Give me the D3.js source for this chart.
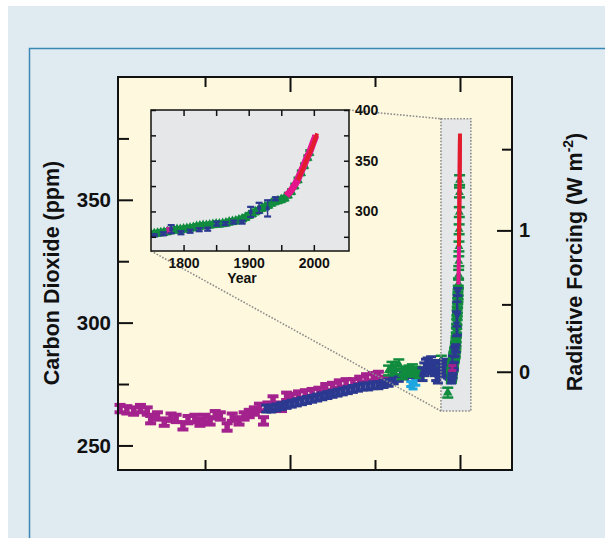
<!DOCTYPE html>
<html>
<head>
<meta charset="utf-8">
<script src="https://cdn.jsdelivr.net/npm/d3@7"></script>
<style>
  body { margin: 0; background: #fff; }
  svg { display: block; font-family: "Liberation Sans", Arial, Helvetica, sans-serif; font-weight: bold; }
</style>
</head>
<body>
<div id="chart"></div>
<script>
// ---- Holocene ice core data, years before 2005 ----
const taylorT   = [10000, 9800, 9600, 9400, 9200, 9100, 8900, 8700, 8500, 8350, 8150, 8000, 7800, 7650, 7500, 7350, 7200, 7050, 6850, 6700, 6500, 6350, 6200, 6050, 5900, 5780, 5650, 5500, 5350, 5250, 5100, 4950, 4750, 4550, 4350, 4150, 3950, 3750, 3550, 3350, 3150, 2950, 2750, 2550, 2400, 2200, 1550];
const taylorCO2 = [265, 264.5, 264, 265, 264, 260.5, 262, 259.5, 261.5, 261, 258, 260.5, 261, 259.5, 261, 260, 262.5, 262, 257.5, 261.5, 260, 262, 263, 264, 265.5, 260, 266, 268.5, 266, 265.5, 270, 269.5, 270.5, 271, 271.5, 272, 273.5, 274, 275, 275.5, 275.5, 276.5, 277.5, 278, 278.5, 276.5, 280];

const domeT   = [5700, 5550, 5400, 5250, 5100, 4950, 4800, 4650, 4500, 4350, 4200, 4050, 3900, 3750, 3600, 3450, 3300, 3150, 3000, 2850, 2700, 2550, 2400, 2250, 2100, 1950, 1800, 1650, 1500, 1350, 1200];
const domeCO2 = [265, 265, 265.5, 266, 266.5, 267, 267.5, 268, 268.5, 269, 269.5, 270, 270.5, 271, 271.5, 272, 272.5, 273, 273.5, 274, 274, 274.5, 274.5, 275, 275.5, 276.5, 277.5, 278.5, 279, 279.5, 280];

const blockT   = [1100, 1050, 1000, 950, 900, 850, 800, 750, 700, 650, 600, 550, 500, 450, 400, 350, 300, 260];
const blockCO2 = [279, 281, 282.5, 283, 282, 283.5, 282, 281, 279, 278, 280.5, 282, 281.5, 282.5, 281, 280, 279.5, 278];

const lawOldT   = [2100, 2000, 1900, 1800, 1700, 1600, 1500, 1400, 1300, 1200, 550, 450, 360];
const lawOldCO2 = [280.5, 282, 281, 283, 279, 280, 280.5, 281, 280, 279.5, 284.5, 283, 271.5];

const cyanT   = [1450, 1380, 1300];
const cyanCO2 = [275, 274, 275.5];

// ---- industrial era, calendar years ----
const lawYears = [1750, 1755, 1760, 1765, 1770, 1775, 1780, 1785, 1790, 1795, 1800, 1805, 1810, 1815, 1820, 1825, 1830, 1835, 1840, 1845, 1850, 1855, 1860, 1865, 1870, 1875, 1880, 1885, 1890, 1895, 1900, 1905, 1910, 1915, 1920, 1925, 1930, 1935, 1940, 1945, 1950, 1955, 1960, 1965, 1970, 1975, 1980, 1985, 1990, 1993];
const lawCO2   = [277.5, 278, 278.5, 279, 279.5, 280, 281, 281.5, 282, 282, 282.5, 283, 283.5, 284, 285, 285.5, 286, 286, 286.5, 287, 287.5, 287.5, 288, 288.5, 289.5, 290, 290.5, 291.5, 292.5, 294, 296, 297.5, 299.5, 301, 303, 304.5, 306, 308, 309.5, 310.5, 311.5, 313, 316, 319.5, 325, 331, 338, 345, 353, 358];

const sipleYears = [1755, 1769, 1781, 1796, 1810, 1824, 1837, 1851, 1864, 1877, 1890, 1903, 1916, 1929, 1941];
const sipleCO2   = [276.5, 278, 282.5, 279, 280.5, 282, 282.5, 288, 288, 289.5, 289.5, 299.5, 303.5, 303, 312.5];
const sipleErr   = [1, 1.5, 4, 1.5, 1.5, 1.5, 1.5, 2, 1.5, 1.5, 1.5, 5, 5, 8, 1.5];

const magYears = [1778];
const magCO2   = [281.5];

const pinkYears = [1958, 1960, 1963, 1966, 1969, 1972, 1975, 1978, 1981, 1984, 1987, 1990, 1993, 1996, 1999, 2002, 2003];
const pinkCO2   = [315.5, 317, 319, 321.5, 324.5, 327.5, 331, 335.5, 340, 344.5, 349, 354, 357.5, 362.5, 368, 373, 375];

const redYears = [1975, 1978, 1981, 1984, 1987, 1990, 1993, 1996, 1999, 2002, 2005];
const redCO2   = [331, 334.5, 339, 343, 348, 352.5, 356.5, 361, 366, 371.5, 377];

// ---- axes ----
const co2Ticks     = [250, 275, 300, 325, 350, 375];
const forcingTicks = [0, 0.5, 1, 1.5];
const timeTicks    = [7500, 5000, 2500, 0];
const insetYearTicks = [1800, 1850, 1900, 1950, 2000];
const insetCo2Ticks  = [275, 300, 325, 350, 375, 400];

const W = 605, H = 538;
const svg = d3.select("#chart").append("svg").attr("width", W).attr("height", H);

// page background + panel border
svg.append("rect").attr("x", 8).attr("y", 6).attr("width", W - 8).attr("height", H - 6).attr("fill", "#e0eaf1");
svg.append("path").attr("d", `M29.5,${H}V48.5H${W}`).attr("fill", "none").attr("stroke", "#3b87b5").attr("stroke-width", 1.5);

const plot = {left: 118, top: 77, right: 512, bottom: 470};
const x = d3.scaleLinear().domain([10060, -1530]).range([plot.left, plot.right]);
const y = d3.scaleLinear().domain([240, 400]).range([plot.bottom, plot.top]);
const yr = v => 2005 - v;   // calendar year -> years before 2005

svg.append("rect")
  .attr("x", plot.left).attr("y", plot.top)
  .attr("width", plot.right - plot.left).attr("height", plot.bottom - plot.top)
  .attr("fill", "#fef9de");

// highlighted region of the main plot
const boxT = [560, -320], boxC = [264, 383];
const box = {
  x0: x(boxT[0]), x1: x(boxT[1]),
  y0: y(boxC[1]), y1: y(boxC[0])
};
svg.append("rect")
  .attr("x", box.x0).attr("y", box.y0)
  .attr("width", box.x1 - box.x0).attr("height", box.y1 - box.y0)
  .attr("fill", "#e6e7e8");

// error-bar markers
function errMarks(g, xs, ys, errs, color, o) {
  const pts = d3.zip(xs, ys, errs);
  const layer = g.append("g").attr("fill", color);
  layer.selectAll("g").data(pts).join("g").each(function(d) {
    const el = d3.select(this);
    const cx = o.x(d[0]), ylo = o.y(d[1] - d[2]), yhi = o.y(d[1] + d[2]);
    el.append("rect").attr("x", cx - o.stem / 2).attr("y", yhi).attr("width", o.stem).attr("height", ylo - yhi);
    el.append("rect").attr("x", cx - o.cap / 2).attr("y", yhi - o.capH / 2).attr("width", o.cap).attr("height", o.capH);
    el.append("rect").attr("x", cx - o.cap / 2).attr("y", ylo - o.capH / 2).attr("width", o.cap).attr("height", o.capH);
    if (o.symbol) {
      el.append("path")
        .attr("d", d3.symbol(o.symbol, o.size)())
        .attr("transform", `translate(${cx},${o.y(d[1])})${o.flip ? " rotate(180)" : ""}`);
    }
  });
}
const fill = (arr, v) => arr.map(() => v);

const main = svg.append("g");
errMarks(main, taylorT, taylorCO2, fill(taylorT, 1.5), "#a3228d", {x, y, stem: 4, cap: 11, capH: 4, symbol: d3.symbolSquare, size: 30});
errMarks(main, cyanT, cyanCO2, fill(cyanT, 1), "#1ea6e0", {x, y, stem: 3, cap: 9, capH: 3});
errMarks(main, domeT, domeCO2, fill(domeT, 1.4), "#2b3990", {x, y, stem: 3, cap: 10, capH: 3, symbol: d3.symbolSquare, size: 26});
errMarks(main, lawOldT, lawOldCO2, fill(lawOldT, 2), "#118c3f", {x, y, stem: 2, cap: 11, capH: 2.5, symbol: d3.symbolTriangle, size: 40});
errMarks(main, blockT, blockCO2, fill(blockT, 2.6), "#2b3990", {x, y, stem: 3, cap: 10, capH: 3, symbol: d3.symbolSquare, size: 30});
errMarks(main, lawYears.map(yr), lawCO2, fill(lawYears, 2), "#118c3f", {x, y, stem: 2, cap: 11, capH: 2.5, symbol: d3.symbolTriangle, size: 34});
errMarks(main, sipleYears.map(yr), sipleCO2, sipleErr, "#2b3990", {x, y, stem: 2, cap: 9, capH: 2.5, symbol: d3.symbolTriangle, size: 24, flip: true});
errMarks(main, magYears.map(yr), magCO2, fill(magYears, 1), "#a3228d", {x, y, stem: 3, cap: 8, capH: 3});

const lineMain = d3.line().x(d => x(yr(d[0]))).y(d => y(d[1]));
main.append("path").datum(d3.zip(pinkYears, pinkCO2)).attr("d", lineMain)
  .attr("fill", "none").attr("stroke", "#e5168b").attr("stroke-width", 4);
main.append("path").datum(d3.zip(redYears, redCO2)).attr("d", lineMain)
  .attr("fill", "none").attr("stroke", "#e31c2b").attr("stroke-width", 4);

// box outline
const dotted = sel => sel.attr("fill", "none").attr("stroke", "#8c8c8c").attr("stroke-width", 1.6).attr("stroke-dasharray", "1.6,1.6");
svg.append("rect")
  .attr("x", box.x0).attr("y", box.y0)
  .attr("width", box.x1 - box.x0).attr("height", box.y1 - box.y0)
  .call(dotted);

// main axes
function styleAxis(g, size) {
  g.select(".domain").remove();
  g.attr("font-family", null).attr("font-size", size).attr("font-weight", "bold");
  g.selectAll("line").attr("stroke", "#111").attr("stroke-width", 2);
  g.selectAll("text").attr("fill", "#111");
}

svg.append("g").attr("transform", `translate(${plot.left},0)`)
  .call(d3.axisLeft(y).tickValues(co2Ticks).tickSizeInner(-15).tickSizeOuter(0).tickPadding(7)
    .tickFormat(d => d % 50 === 0 ? d : ""))
  .call(g => styleAxis(g, 20.5))
  .call(g => g.selectAll(".tick").filter(d => d % 50 !== 0).select("line").attr("x2", 11));

const forcingPpm = forcingTicks.map(f => 280 * Math.exp(f / 5.35));
svg.append("g").attr("transform", `translate(${plot.right},0)`)
  .call(d3.axisRight(y).tickValues(forcingPpm).tickSizeInner(-15).tickSizeOuter(0).tickPadding(7)
    .tickFormat((d, i) => forcingTicks[i] % 1 === 0 ? forcingTicks[i] : ""))
  .call(g => styleAxis(g, 20))
  .call(g => g.selectAll(".tick").filter((d, i) => forcingTicks[i] % 1 !== 0).select("line").attr("x2", -10));

svg.append("g").attr("transform", `translate(0,${plot.bottom})`)
  .call(d3.axisBottom(x).tickValues(timeTicks).tickSizeInner(-15).tickSizeOuter(0).tickFormat(""))
  .call(g => styleAxis(g, 12))
  .call(g => g.selectAll(".tick").filter(d => d % 5000 !== 0).select("line").attr("y2", -10));

svg.append("g").attr("transform", `translate(0,${plot.top})`)
  .call(d3.axisTop(x).tickValues(timeTicks).tickSizeInner(-15).tickSizeOuter(0).tickFormat(""))
  .call(g => styleAxis(g, 12))
  .call(g => g.selectAll(".tick").filter(d => d % 5000 !== 0).select("line").attr("y2", 10));

svg.append("rect")
  .attr("x", plot.left).attr("y", plot.top)
  .attr("width", plot.right - plot.left).attr("height", plot.bottom - plot.top)
  .attr("fill", "none").attr("stroke", "#111").attr("stroke-width", 2);

// axis titles
svg.append("text")
  .attr("transform", "translate(58.5,273) rotate(-90)")
  .attr("text-anchor", "middle").attr("font-size", 21.5).attr("fill", "#111")
  .text("Carbon Dioxide (ppm)");

const rt = svg.append("text")
  .attr("transform", "translate(582,262) rotate(-90)")
  .attr("text-anchor", "middle").attr("font-size", 21.5).attr("fill", "#111");
rt.append("tspan").text("Radiative Forcing (W m");
rt.append("tspan").attr("font-size", 14).attr("dy", -9).text("-2");
rt.append("tspan").attr("dy", 9).text(")");

// ---- inset ----
const inset = {left: 151, top: 110, right: 349, bottom: 251};
const xi = d3.scaleLinear().domain([1750, 2054]).range([inset.left, inset.right]);
const yi = d3.scaleLinear().domain([261, 400]).range([inset.bottom, inset.top]);

// connector lines
svg.append("line").attr("x1", inset.right).attr("y1", inset.top).attr("x2", box.x0).attr("y2", box.y0).call(dotted);
svg.append("line").attr("x1", inset.left).attr("y1", inset.bottom).attr("x2", box.x0).attr("y2", box.y1).call(dotted);

svg.append("rect")
  .attr("x", inset.left).attr("y", inset.top)
  .attr("width", inset.right - inset.left).attr("height", inset.bottom - inset.top)
  .attr("fill", "#e6e7e8");

svg.append("clipPath").attr("id", "insetClip").append("rect")
  .attr("x", inset.left).attr("y", inset.top)
  .attr("width", inset.right - inset.left).attr("height", inset.bottom - inset.top);

const ig = svg.append("g").attr("clip-path", "url(#insetClip)");
errMarks(ig, lawYears, lawCO2, fill(lawYears, 2), "#118c3f", {x: xi, y: yi, stem: 3, cap: 8, capH: 3, symbol: d3.symbolTriangle, size: 48});
errMarks(ig, magYears, magCO2, fill(magYears, 2), "#c0249a", {x: xi, y: yi, stem: 3, cap: 6, capH: 2.5, symbol: d3.symbolSquare, size: 30});
errMarks(ig, sipleYears, sipleCO2, sipleErr, "#2b3990", {x: xi, y: yi, stem: 1.5, cap: 7, capH: 2.2, symbol: d3.symbolSquare, size: 14});

const lineInset = d3.line().x(d => xi(d[0])).y(d => yi(d[1]));
ig.append("path").datum(d3.zip(pinkYears, pinkCO2)).attr("d", lineInset)
  .attr("fill", "none").attr("stroke", "#e5168b").attr("stroke-width", 7).attr("stroke-linejoin", "round");
ig.append("path").datum(d3.zip(redYears, redCO2)).attr("d", lineInset)
  .attr("fill", "none").attr("stroke", "#e31c2b").attr("stroke-width", 4).attr("stroke-linejoin", "round");

function styleInset(g) {
  styleAxis(g, 14);
  g.selectAll("line").attr("stroke-width", 1.5);
}
svg.append("g").attr("transform", `translate(0,${inset.bottom})`)
  .call(d3.axisBottom(xi).tickValues(insetYearTicks).tickSizeInner(-6).tickSizeOuter(0).tickPadding(7)
    .tickFormat(d => d % 100 === 0 ? d : ""))
  .call(styleInset);
svg.append("g").attr("transform", `translate(0,${inset.top})`)
  .call(d3.axisTop(xi).tickValues(insetYearTicks).tickSizeInner(-6).tickSizeOuter(0).tickFormat(""))
  .call(styleInset);
svg.append("g").attr("transform", `translate(${inset.left},0)`)
  .call(d3.axisLeft(yi).tickValues(insetCo2Ticks).tickSizeInner(-5).tickSizeOuter(0).tickFormat(""))
  .call(styleInset);
svg.append("g").attr("transform", `translate(${inset.right},0)`)
  .call(d3.axisRight(yi).tickValues(insetCo2Ticks).tickSizeInner(-5).tickSizeOuter(0).tickPadding(6)
    .tickFormat(d => d % 50 === 0 ? d : ""))
  .call(styleInset);

svg.append("rect")
  .attr("x", inset.left).attr("y", inset.top)
  .attr("width", inset.right - inset.left).attr("height", inset.bottom - inset.top)
  .attr("fill", "none").attr("stroke", "#111").attr("stroke-width", 1.5);

svg.append("text")
  .attr("x", 242).attr("y", 283)
  .attr("text-anchor", "middle").attr("font-size", 14).attr("fill", "#111")
  .text("Year");
</script>
</body>
</html>
